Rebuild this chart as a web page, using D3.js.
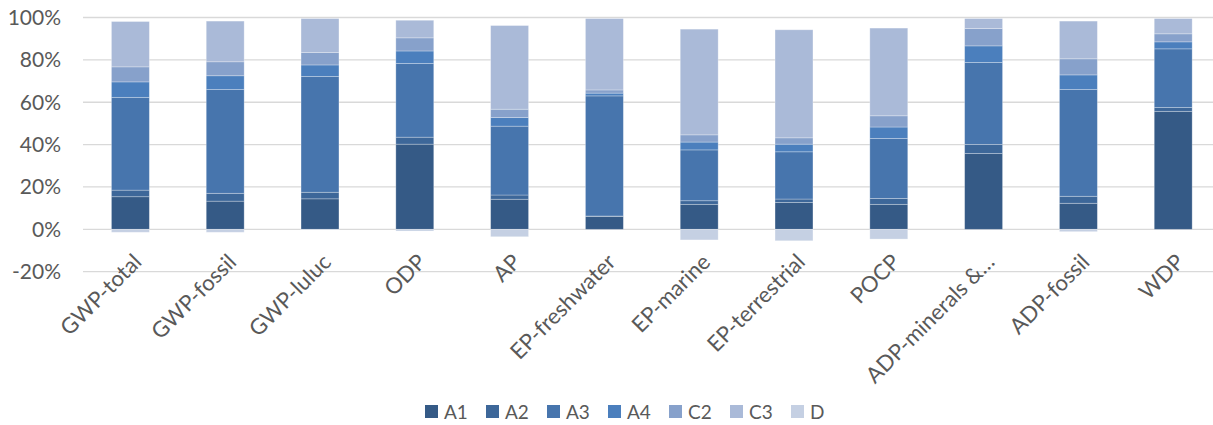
<!DOCTYPE html>
<html><head><meta charset="utf-8">
<script src="https://cdn.jsdelivr.net/npm/d3@7"></script>
<style>body{margin:0;background:#fff}svg{display:block}text{font-family:Lato,"Open Sans",sans-serif;fill:#595959}</style>
</head><body><svg id="c" width="1213" height="425"></svg>
<script>
const categories = ["GWP-total","GWP-fossil","GWP-luluc","ODP","AP","EP-freshwater","EP-marine","EP-terrestrial","POCP","ADP-minerals &…","ADP-fossil","WDP"];
const seriesNames = ["A1","A2","A3","A4","C2","C3","D"];
const A1 = [15.4,13.3,14.4,40.2,14.2,6.1,11.8,12.7,11.8,35.8,12.3,55.7];
const A2 = [3.1,3.7,3.1,3.3,2.0,0.2,1.7,1.6,2.8,4.3,3.3,1.8];
const A3 = [43.8,49.0,54.7,34.8,32.5,56.7,24.0,22.3,28.3,38.7,50.4,27.7];
const A4 = [7.3,6.5,5.4,5.9,4.1,1.3,3.7,3.6,5.4,7.8,6.9,3.3];
const C2 = [7.1,6.6,5.9,6.2,3.9,1.5,3.4,3.0,5.3,8.2,7.6,3.8];
const C3 = [21.4,19.2,16.0,8.3,39.5,33.7,49.9,51.0,41.4,4.7,17.8,7.2];
const D  = [-1.4,-1.4,-0.3,-0.8,-3.5,0,-5.0,-5.4,-4.6,0,-1.1,0];
const yTicks = [-20,0,20,40,60,80,100];
const colors = ["#355A86","#3D6799","#4775AD","#4B7FBD","#87A1CB","#AABAD8","#C5D0E3"];

const seriesVals = [A1,A2,A3,A4,C2,C3,D];
const rows = categories.map((c,i)=>{const r={cat:c}; seriesNames.forEach((s,j)=>r[s]=seriesVals[j][i]); return r;});

const svg = d3.select("#c");
const x = d3.scaleBand().domain(categories).range([83,1220.6]).paddingInner(0.6).paddingOuter(0.3);
const y = d3.scaleLinear().domain([-20,100]).range([271.7,17.5]);

// grid
svg.append("g").selectAll("line").data(yTicks).join("line")
  .attr("x1",83).attr("x2",1213).attr("y1",d=>y(d)).attr("y2",d=>y(d))
  .attr("stroke","#d9d9d9").attr("stroke-width",1.3);

// y tick labels
svg.append("g").selectAll("text").data(yTicks).join("text")
  .attr("x",61).attr("y",d=>y(d)).attr("dy","0.35em").attr("text-anchor","end")
  .style("font-size","21px").text(d=>d+"%");

const stack = d3.stack().keys(seriesNames).offset(d3.stackOffsetDiverging);
const stacked = stack(rows);

svg.append("g").selectAll("g").data(stacked).join("g")
  .attr("fill",(d,i)=>colors[i])
  .selectAll("rect").data(d=>d).join("rect")
  .attr("x",d=>x(d.data.cat)).attr("width",x.bandwidth())
  .attr("y",d=>y(Math.max(d[0],d[1]))).attr("height",d=>Math.abs(y(d[0])-y(d[1])))
  .attr("stroke","rgba(255,255,255,0.35)").attr("stroke-width",0.8);

// category labels
svg.append("g").selectAll("text").data(categories).join("text")
  .attr("transform",d=>`translate(${x(d)+x.bandwidth()/2+7},258) rotate(-45)`)
  .attr("text-anchor","end").attr("dy","0.35em")
  .style("font-size","22px").text(d=>d);

// legend
const lg = svg.append("g").selectAll("g").data(seriesNames).join("g")
  .attr("transform",(d,i)=>`translate(${425+i*61},405)`);
lg.append("rect").attr("width",13).attr("height",13).attr("fill",(d,i)=>colors[i]);
lg.append("text").attr("x",19).attr("y",7).attr("dy","0.35em").style("font-size","19px").text(d=>d);
</script></body></html>
